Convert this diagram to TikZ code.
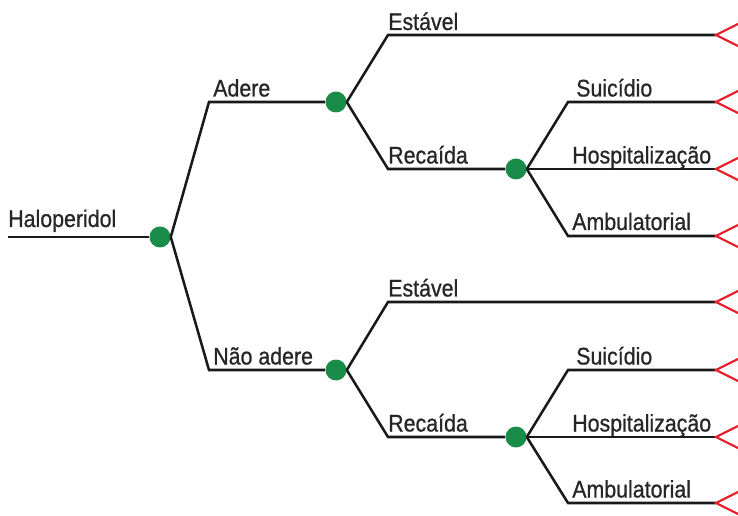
\documentclass[tikz,border=0pt]{standalone}
\usepackage{fontspec}
\setmainfont{Liberation Sans}[FakeStretch=0.89,FakeBold=0.8]
\definecolor{dotgreen}{RGB}{24,140,72}
\definecolor{trired}{RGB}{232,30,40}
\begin{document}
\begin{tikzpicture}[x=0.75pt,y=-0.75pt,
  edge/.style={line width=1.9pt,draw=black!90},
  chance/.style={circle,fill=dotgreen,minimum size=15.75pt,inner sep=0pt},
  lbl/.style={anchor=base west,inner sep=0pt,text=black!85,font=\fontsize{18}{20}\selectfont},
  term/.style={draw=trired,line width=1.6pt,line join=miter}]
\useasboundingbox (0,0) rectangle (738,516);
% chance nodes
\node[chance] (d0) at (160,237) {};
\node[chance] (d1) at (336,102) {};
\node[chance] (d2) at (336,370) {};
\node[chance] (d3) at (516,169) {};
\node[chance] (d4) at (516,437) {};
% coordinates
\coordinate (r0) at (8,237);
\coordinate (b1) at (209,102);
\coordinate (b2) at (209,370);
\coordinate (b11) at (388,35);
\coordinate (b12) at (388,169);
\coordinate (b21) at (388,302);
\coordinate (b22) at (388,437);
\coordinate (b31) at (568,102);
\coordinate (b33) at (568,236);
\coordinate (b41) at (568,370);
\coordinate (b43) at (568,503);
\foreach \n/\y in {1/35,2/102,3/169,4/236,5/302,6/370,7/437,8/503}
  \coordinate (t\n) at (716,\y);
% edges
\draw[edge] (r0) -- (d0.west);
\draw[edge] (d0.east) -- (b1) -- (d1.west);
\draw[edge] (d0.east) -- (b2) -- (d2.west);
\draw[edge] (d1.east) -- (b11) -- (t1);
\draw[edge] (d1.east) -- (b12) -- (d3.west);
\draw[edge] (d2.east) -- (b21) -- (t5);
\draw[edge] (d2.east) -- (b22) -- (d4.west);
\draw[edge] (d3.east) -- (b31) -- (t2);
\draw[edge] (d3.east) -- (t3);
\draw[edge] (d3.east) -- (b33) -- (t4);
\draw[edge] (d4.east) -- (b41) -- (t6);
\draw[edge] (d4.east) -- (t7);
\draw[edge] (d4.east) -- (b43) -- (t8);
% terminal triangles
\foreach \n in {1,...,8}
  \draw[term] (t\n) -- ++(27,-13.5) -- ++(0,27) -- cycle;
% labels
\node[lbl] (l0) at (8,227) {Haloperidol};
\node[lbl] (l1) at (213,96.5) {Adere};
\node[lbl] (l2) at (213,364.5) {Não adere};
\node[lbl] (l11) at (388,30) {Estável};
\node[lbl] (l12) at (388,163.5) {Recaída};
\node[lbl] (l21) at (388,296.5) {Estável};
\node[lbl] (l22) at (388,431.5) {Recaída};
\node[lbl] (l31) at (576,96.5) {Suicídio};
\node[lbl] (l32) at (572,163.5) {Hospitalização};
\node[lbl] (l33) at (572,230) {Ambulatorial};
\node[lbl] (l41) at (576,364.5) {Suicídio};
\node[lbl] (l42) at (572,431.5) {Hospitalização};
\node[lbl] (l43) at (572,497.5) {Ambulatorial};
\end{tikzpicture}
\end{document}
